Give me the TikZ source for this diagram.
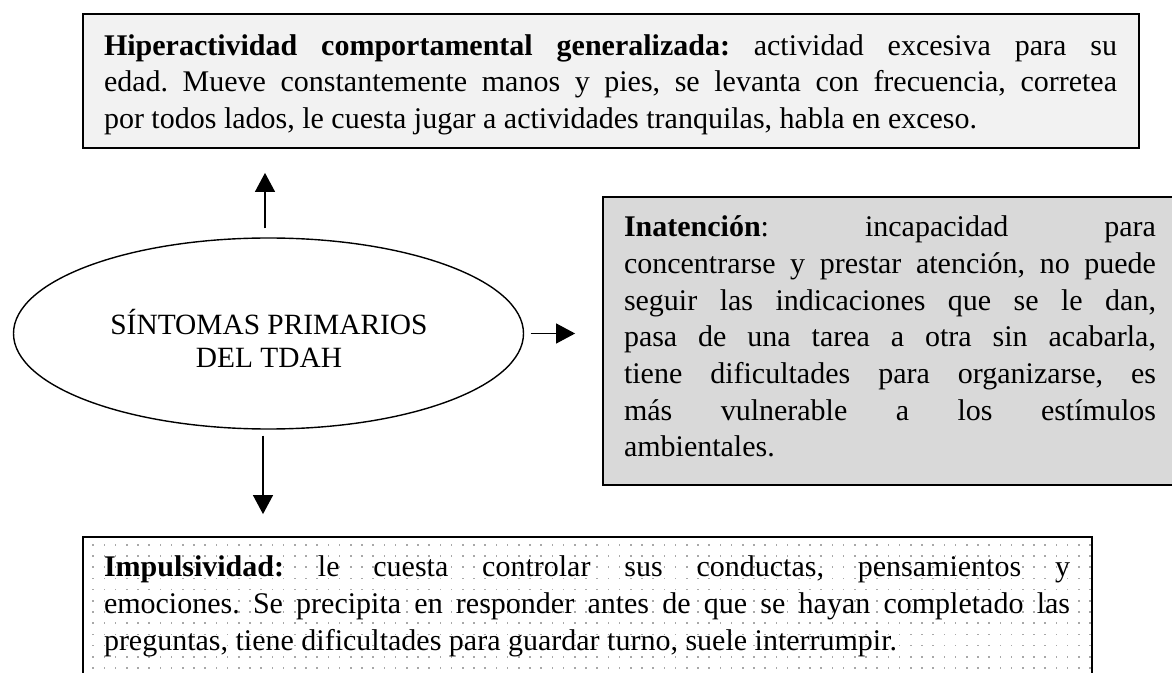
\documentclass[tikz,border=0pt]{standalone}
\usepackage{fontspec}
\setmainfont{Liberation Serif}
\usetikzlibrary{arrows.meta,shapes.geometric}
\definecolor{hypfill}{HTML}{F2F2F2}
\definecolor{inafill}{HTML}{D9D9D9}
\definecolor{dotcol}{HTML}{A8A8A8}
\newcommand{\jline}[2]{\makebox[#1][s]{#2}}
\frenchspacing
\begin{document}
\begin{tikzpicture}[x=0.5pt,y=-0.5pt,
  boxshape/.style={draw, line width=0.9pt, rectangle, inner sep=0pt},
  txt/.style={inner sep=0pt, align=left, font=\fontsize{15}{18.35}\selectfont\frenchspacing},
  arr/.style={-{Triangle[width=10pt,length=9.5pt]}, line width=0.6pt}]
\useasboundingbox (0,0) rectangle (1172,673);
\fill[white] (0,0) rectangle (1172,673);

% top box
\node[boxshape, fill=hypfill, minimum width=528.15pt, minimum height=67pt] (hyp) at (610.85,81) {};
\node[txt] (hyptxt) at (610.5,84.6) {%
\jline{506.5pt}{\textbf{Hiperactividad comportamental generalizada:} actividad excesiva para su}\\
\jline{506.5pt}{edad. Mueve constantemente manos y pies, se levanta con frecuencia, corretea}\\
por todos lados, le cuesta jugar a actividades tranquilas, habla en exceso.};

% right box
\node[boxshape, fill=inafill, minimum width=287pt, minimum height=144pt] (ina) at (890,341) {};
\node[txt] (inatxt) at (890,336.5) {%
\jline{266pt}{\textbf{Inatención}: incapacidad para}\\
\jline{266pt}{concentrarse y prestar atención, no puede}\\
\jline{266pt}{seguir las indicaciones que se le dan,}\\
\jline{266pt}{pasa de una tarea a otra sin acabarla,}\\
\jline{266pt}{tiene dificultades para organizarse, es}\\
\jline{266pt}{más vulnerable a los estímulos}\\
ambientales.};

% bottom box with dotted pattern
\node[boxshape, fill=white, minimum width=504.5pt, minimum height=70pt,
  path picture={
    \foreach \i in {0,...,90} {
      \foreach \j in {0,...,12} {
        \fill[dotcol] ([xshift=\i*5.6pt+4.65pt, yshift=-\j*5.6pt-3.5pt]path picture bounding box.north west) rectangle ++(0.8pt,-0.8pt);
      }
    }
  }] (imp) at (587.5,607) {};
\node[txt] (imptxt) at (587,606.5) {%
\jline{483pt}{\textbf{Impulsividad:} le cuesta controlar sus conductas, pensamientos y}\\
\jline{483pt}{emociones. Se precipita en responder antes de que se hayan completado las}\\
preguntas, tiene dificultades para guardar turno, suele interrumpir.};

% central ellipse
\node[draw, ellipse, line width=0.7pt, minimum width=255pt, minimum height=95.5pt, inner sep=0pt] (sym) at (268.5,333.5) {};
\node[inner sep=0pt, align=center, font=\fontsize{14.7}{16.5}\selectfont] (symtxt) at (269,338) {SÍNTOMAS PRIMARIOS\\DEL TDAH};

% connectors
\draw[arr, shorten <=4.5pt, shorten >=12pt] ([xshift=-1.75pt]sym.north) -- ([xshift=-1.75pt]sym.north |- hyp.south);
\draw[arr, shorten <=3.25pt, shorten >=13.5pt] (sym.east) -- (sym.east -| ina.west);
\draw[arr, shorten <=3pt, shorten >=11pt] ([xshift=-2.75pt]sym.south) -- ([xshift=-2.75pt]sym.south |- imp.north);
\end{tikzpicture}
\end{document}
